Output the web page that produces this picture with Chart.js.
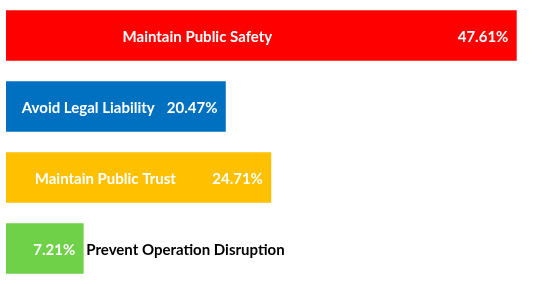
<!DOCTYPE html>
<html>
<head>
<meta charset="utf-8">
<script src="https://cdn.jsdelivr.net/npm/chart.js@4/dist/chart.umd.min.js"></script>
<style>
    html, body { margin: 0; padding: 0; background: #fff; }
    #wrap { width: 550px; height: 284px; }
</style>
</head>
<body>
<div id="wrap"><canvas id="canvas"></canvas></div>
<script>
var categories = ["Maintain Public Safety", "Avoid Legal Liability", "Maintain Public Trust", "Prevent Operation Disruption"];
var shares = [47.61, 20.47, 24.71, 7.21];
var barColors = ["#FF0000", "#0070C0", "#FFC000", "#6FD147"];

var LABEL_FONT = "bold 15px Lato, 'Open Sans', sans-serif";

// draws category name + percentage on each bar
var barLabels = {
    id: "barLabels",
    afterDatasetsDraw: function (chart) {
        var ctx = chart.ctx;
        var meta = chart.getDatasetMeta(0);
        ctx.save();
        ctx.font = LABEL_FONT;
        ctx.textBaseline = "middle";
        meta.data.forEach(function (bar, i) {
            var left = bar.base;
            var right = bar.x;
            var width = right - left;
            var ty = bar.y + 2;
            var valueText = shares[i].toFixed(2) + "%";
            var nameWidth = ctx.measureText(categories[i]).width;

            // percentage, right aligned inside the bar
            ctx.fillStyle = "#ffffff";
            ctx.textAlign = "right";
            ctx.fillText(valueText, right - 8, ty);

            if (nameWidth + ctx.measureText(valueText).width + 30 < width) {
                ctx.textAlign = "center";
                ctx.fillText(categories[i], left + width * 0.375, ty);
            } else {
                // too narrow, put the name outside
                ctx.fillStyle = "#000000";
                ctx.textAlign = "left";
                ctx.fillText(categories[i], right + 3, ty);
            }
        });
        ctx.restore();
    }
};

window.onload = function () {
    var ctx = document.getElementById("canvas").getContext("2d");
    window.myBar = new Chart(ctx, {
        type: "bar",
        data: {
            labels: categories,
            datasets: [{
                data: shares,
                backgroundColor: barColors,
                borderWidth: 0,
                barThickness: 50
            }]
        },
        options: {
            indexAxis: "y",
            responsive: true,
            maintainAspectRatio: false,
            animation: false,
            layout: { padding: { left: 6, right: 8, top: -1, bottom: -2 } },
            plugins: {
                legend: { display: false },
                tooltip: { enabled: false }
            },
            scales: {
                x: { display: false, min: 0, max: 50 },
                y: { display: false }
            }
        },
        plugins: [barLabels]
    });
};
</script>
</body>
</html>
